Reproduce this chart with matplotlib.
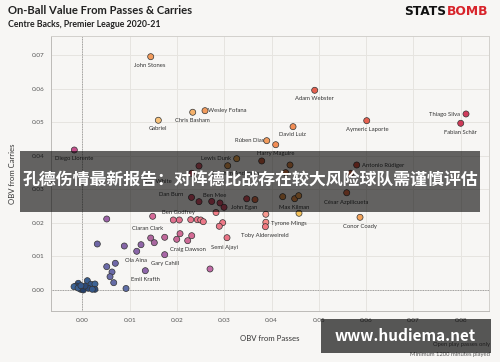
import matplotlib
matplotlib.use("Agg")
import matplotlib.pyplot as plt
from matplotlib.patches import Rectangle

# OBV values (x = passes, y = carries)
obv_pass = [
    0.01446, 0.02334, 0.02594, 0.01607, -0.00169, 0.04913, 0.08112, 0.0800,
    0.06013, 0.04455, 0.03899, 0.04089,
    0.03264, 0.03074, 0.02467, 0.02313, 0.02309, 0.02467, 0.02736, 0.02911,
    0.02996, 0.03476, 0.03651,
    0.03793, 0.04391, 0.0430, 0.05801, 0.05674, 0.0559, 0.04237, 0.0449, 0.04575,
    0.00516, 0.01488, 0.01924, 0.02051, 0.02292, 0.02431, 0.02503, 0.02558,
    0.02827, 0.02968, 0.02896,
    0.0388, 0.0388, 0.03871, 0.04581, 0.05871,
    0.00317, 0.00888, 0.0115, 0.01241, 0.01446, 0.01522, 0.01742, 0.01996,
    0.02066, 0.02228, 0.02313, 0.03059,
    0.01742, 0.01332, 0.027,
    0.00516, 0.00698, 0.00628, 0.00586, 0.00664, 0.00924,
    -0.00085, -0.00133, -0.00175, 0.00106, 0.00184, 0.00268, 0.00268, -0.00034,
    0.00021, 0.00127, 0.00211, 0.00057, -0.0009, -0.0003,
]
obv_carry = [
    0.06955, 0.05296, 0.05343, 0.05057, 0.0417, 0.05952, 0.05245, 0.04967,
    0.05045, 0.04866, 0.04448, 0.04328,
    0.0391, 0.0370, 0.03693, 0.03475, 0.02755, 0.02627, 0.02633, 0.02588,
    0.0246, 0.02713, 0.0269,
    0.03842, 0.03722, 0.03493, 0.03722, 0.03475, 0.02893, 0.02776, 0.02716, 0.02806,
    0.0211, 0.02191, 0.02081, 0.02081, 0.0209, 0.0209, 0.02081, 0.0203,
    0.02304, 0.0200, 0.01893,
    0.02251, 0.02012, 0.01881, 0.02281, 0.02161,
    0.01364, 0.01304, 0.01146, 0.01343, 0.01543, 0.01403, 0.01564, 0.01504,
    0.01672, 0.01463, 0.01612, 0.01552,
    0.01045, 0.00567, 0.00618,
    0.00687, 0.00788, 0.00528, 0.00388, 0.00209, 0.00036,
    0.00191, 0.0011, 0.0009, 0.00269, 0.00161, 0.0017, 0.00012, 0.00012,
    -0.00009, 0.00042, 0.00012, 0.0011, 0.0005, 0.0012,
]
dot_colours = [
    '#f29b5c', '#f6b26b', '#f29b5c', '#f8c27a', '#c4508c', '#e5604f', '#d03c5c', '#cf3a58',
    '#e5604f', '#f28d55', '#f29b5c', '#f28d55',
    '#f0a850', '#e09850', '#d65a6a', '#d65a6a', '#d4506a', '#d4506a', '#d4506a', '#d4506a',
    '#d4506a', '#d8505a', '#e0704a',
    '#c86040', '#e08848', '#d87844', '#d65040', '#e06a48', '#e07048', '#e09048', '#e89048', '#f0a050',
    '#9a62a6', '#d56a98', '#e0708e', '#e2708c', '#e8748a', '#ea7688', '#ea7688', '#eb7888',
    '#f27e88', '#ee7a88', '#eb7888',
    '#f79a90', '#f58a88', '#f07880', '#f6c35a', '#f3a35a',
    '#6e66a6', '#8666a8', '#8a66a8', '#9066a8', '#b0669e', '#a8669f', '#c0689a', '#c86896',
    '#d06a94', '#cc6a96', '#d46a94', '#ea7486',
    '#a866a6', '#8e66aa', '#c06aa6',
    '#6a6aa8', '#7068a8', '#6a6aa8', '#6a6ca8', '#656ca6', '#5f6ea6',
    '#35588a', '#2c4a78', '#3d6496', '#3b5f8f', '#35588a', '#3d6496', '#2c4a78', '#2c4a78',
    '#253f68', '#2c4a78', '#35588a', '#2c4a78', '#3b5f8f', '#35588a',
]

player_names = [
    'John Stones', 'Chris Basham', 'Wesley Fofana', 'Gabriel', 'Diego Llorente',
    'Adam Webster', 'Thiago Silva', 'Fabian Schär', 'Aymeric Laporte', 'David Luiz',
    'Rúben Dias', 'Harry Maguire', 'Lewis Dunk', 'Joachim Andersen', 'Ben White',
    'Dan Burn', 'Ben Mee', 'John Egan', 'Antonio Rüdiger', 'César Azpilicueta',
    'Max Kilman', 'Ben Godfrey', 'Tyrone Mings', 'Toby Alderweireld', 'Conor Coady',
    'Ciaran Clark', 'Semi Ajayi', 'Craig Dawson', 'Ola Aina', 'Gary Cahill', 'Emil Krafth',
]
label_x = [
    0.01431, 0.02319, 0.02660, 0.0159, -0.00182,
    0.04909, 0.07991, 0.07985, 0.06019, 0.04444,
    0.03851, 0.04085, 0.03151, 0.03239, 0.0160,
    0.01875, 0.02805, 0.03412, 0.05917, 0.05569,
    0.04476, 0.0203, 0.03980, 0.03858, 0.05871,
    0.01389, 0.03011, 0.02228, 0.01135, 0.01738, 0.01326,
]
label_y = [
    0.06699, 0.05036, 0.05334, 0.04806, 0.03901,
    0.05693, 0.05236, 0.04699, 0.04788, 0.04618,
    0.04448, 0.04072, 0.03901, 0.03475, 0.03224,
    0.02827, 0.02806, 0.02439, 0.03701, 0.02609,
    0.0246, 0.02299, 0.01961, 0.01624, 0.01901,
    0.01812, 0.01254, 0.01185, 0.00866, 0.00788, 0.0031,
]
label_ha = ['center'] * len(player_names)
for i in (2, 18, 22):
    label_ha[i] = 'left'
for i in (6, 10, 12):
    label_ha[i] = 'right'

x_ticks = [0.00, 0.01, 0.02, 0.03, 0.04, 0.05, 0.06, 0.07, 0.08]
y_ticks = [0.00, 0.01, 0.02, 0.03, 0.04, 0.05, 0.06, 0.07]

bg = '#f7f6f4'
plt.rcParams['font.family'] = ['Lato', 'DejaVu Sans']

fig = plt.figure(figsize=(5, 3.62), dpi=100, facecolor=bg)
ax = fig.add_axes([0.102, 0.1409, 0.876, 0.7597])
ax.set_facecolor(bg)

ax.set_xlim(-0.00662, 0.08598)
ax.set_ylim(-0.00636, 0.07573)
ax.set_xticks(x_ticks)
ax.set_yticks(y_ticks)
ax.set_xticklabels(['%.2f' % t for t in x_ticks])
ax.set_yticklabels(['%.2f' % t for t in y_ticks])
ax.tick_params(length=0, labelsize=4.6, colors='#555555', pad=5)
ax.grid(color='#e6e4e0', linewidth=0.7)
ax.set_axisbelow(True)
for s in ax.spines.values():
    s.set_color('#d2d0cc')
    s.set_linewidth(0.7)
ax.spines['left'].set_color('#bdbbb8')
ax.spines['bottom'].set_color('#bdbbb8')

ax.axvline(0, color='#8a8a8a', lw=0.6, ls=(0, (1, 1)), zorder=1)
ax.axhline(0, color='#8a8a8a', lw=0.6, ls=(0, (1, 1)), zorder=1)

ax.scatter(obv_pass, obv_carry, s=19, c=dot_colours, edgecolors='#333333',
           linewidths=0.5, zorder=3)

for i, name in enumerate(player_names):
    ax.text(label_x[i], label_y[i], name, fontsize=4.2, color='#333333',
            ha=label_ha[i], va='center', zorder=4)

ax.set_xlabel('OBV from Passes', fontsize=5.6, color='#333333', labelpad=9)
ax.set_ylabel('OBV from Carries', fontsize=5.6, color='#333333', labelpad=11)

fig.text(0.016, 0.972, 'On-Ball Value From Passes & Carries', fontsize=8.1,
         fontweight='bold', color='#222222', va='center')
fig.text(0.016, 0.933, 'Centre Backs, Premier League 2020-21', fontsize=6.3,
         fontweight='bold', color='#222222', va='center')

fig.text(0.893, 0.968, 'STATS', fontsize=8.8, fontweight='heavy', color='#111111',
         ha='right', va='center', family='DejaVu Sans')
fig.text(0.893, 0.968, 'BOMB', fontsize=8.8, fontweight='heavy', color='#d8232a',
         ha='left', va='center', family='DejaVu Sans')

fig.text(0.980, 0.047, 'Open play passes only', fontsize=4.2, color='#555555',
         ha='right', va='center')
fig.text(0.980, 0.022, 'Minimum 1200 minutes played', fontsize=4.2, color='#555555',
         ha='right', va='center')

# overlay banner
fig.patches.append(Rectangle((0.04, 0.4144), 0.92, 0.1685, transform=fig.transFigure,
                             facecolor='black', alpha=0.6, edgecolor='none', zorder=5))
fig.text(0.5, 0.5, '孔德伤情最新报告：对阵德比战存在较大风险球队需谨慎评估',
         fontsize=12.2, fontweight='bold', color='white', ha='center', va='center',
         family=['Noto Sans CJK SC', 'DejaVu Sans'], zorder=6)

# watermark box
fig.patches.append(Rectangle((0.642, 0.0249), 0.340, 0.094, transform=fig.transFigure,
                             facecolor='black', alpha=0.65, edgecolor='none', zorder=5))
fig.text(0.811, 0.072, 'www.hudiema.net', fontsize=11, fontweight='bold', color='white',
         ha='center', va='center', family=['Noto Sans CJK SC', 'DejaVu Sans'], zorder=6)

fig.savefig('out.png', dpi=100, facecolor=bg)
